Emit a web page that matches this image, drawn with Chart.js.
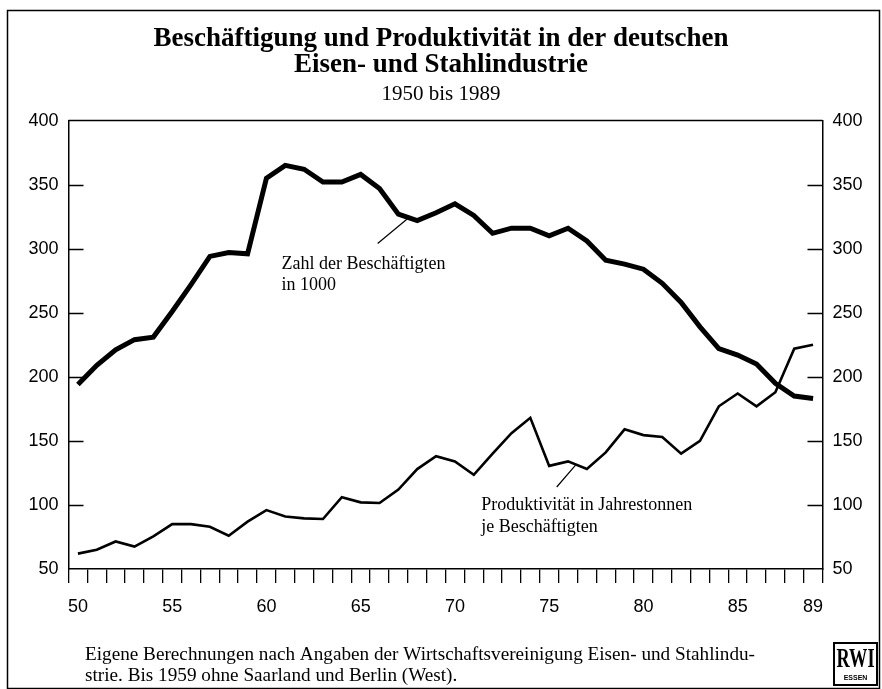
<!DOCTYPE html>
<html><head><meta charset="utf-8">
<script src="https://cdn.jsdelivr.net/npm/chart.js@4.4.0/dist/chart.umd.min.js"></script>
<style>html,body{margin:0;padding:0;background:#fff;}#wrap{width:882px;height:689px;}</style>
</head><body><div id="wrap"><canvas id="c" width="882" height="689"></canvas></div>
<script>
const years = [1950,1951,1952,1953,1954,1955,1956,1957,1958,1959,1960,1961,1962,1963,1964,1965,1966,1967,1968,1969,1970,1971,1972,1973,1974,1975,1976,1977,1978,1979,1980,1981,1982,1983,1984,1985,1986,1987,1988,1989];
const employment = [194,209,221,229,231,251,272,294,297,296,355,365,362,352,352,358,347,327,322,328,335,326,312,316,316,310,316,306,291,288,284,273,258,239,222,217,210,195,185,183];
const productivity = [62,65,71.5,67.5,75.5,85,85,83,76,87,96,91,89.5,89,106,102,101.5,112,128,138,134,123.5,140,156,168,130.5,134,128,141,159,154.5,153,140,150,177,187,177,188,222,225];
const labeledYears = [1950,1955,1960,1965,1970,1975,1980,1985,1989];
const yMin = 50, yMax = 400, yStep = 50;
const titleLines = ['Beschäftigung und Produktivität in der deutschen','Eisen- und Stahlindustrie'];
const subtitleText = '1950 bis 1989';
const employmentLabel = ['Zahl der Beschäftigten','in 1000'];
const productivityLabel = ['Produktivität in Jahrestonnen','je Beschäftigten'];
const footnote = ['Eigene Berechnungen nach Angaben der Wirtschaftsvereinigung Eisen- und Stahlindu-','strie. Bis 1959 ohne Saarland und Berlin (West).'];

const SERIF = "'Liberation Serif', 'Times New Roman', serif";
const SANS = "'Liberation Sans', Arial, sans-serif";

const decor = {
  id: 'decor',
  beforeDraw(chart) {
    const c = chart.ctx;
    c.save();
    c.fillStyle = '#fff';
    c.fillRect(0, 0, chart.width, chart.height);
    c.restore();
  },
  afterDraw(chart) {
    const c = chart.ctx;
    const a = chart.chartArea;
    const xs = chart.scales.x, ys = chart.scales.y;
    c.save();
    c.strokeStyle = '#000';
    c.fillStyle = '#000';
    // outer frame
    c.lineWidth = 1.5;
    c.strokeRect(7.5, 10.5, 872, 678);
    // top border of plot
    c.beginPath();
    c.moveTo(a.left, a.top); c.lineTo(a.right, a.top);
    c.stroke();
    // inward y ticks
    c.lineWidth = 1.3;
    for (let v = yMin + yStep; v < yMax; v += yStep) {
      const py = Math.round(ys.getPixelForValue(v)) + 0.5;
      c.beginPath();
      c.moveTo(a.left, py); c.lineTo(a.left + 15, py);
      c.moveTo(a.right - 15, py); c.lineTo(a.right, py);
      c.stroke();
    }
    // annotation leader lines (anchored in data coordinates)
    c.lineWidth = 1.2;
    c.beginPath();
    c.moveTo(xs.getPixelForValue(15.9), ys.getPixelForValue(304));
    c.lineTo(xs.getPixelForValue(17.45), ys.getPixelForValue(323));
    c.moveTo(xs.getPixelForValue(25.4), ys.getPixelForValue(114));
    c.lineTo(xs.getPixelForValue(26.4), ys.getPixelForValue(131));
    c.stroke();
    // annotation texts
    c.font = '18px ' + SERIF;
    c.textBaseline = 'middle';
    c.textAlign = 'left';
    let ex = xs.getPixelForValue(10.8), ey = ys.getPixelForValue(288);
    c.fillText(employmentLabel[0], ex, ey);
    c.fillText(employmentLabel[1], ex, ey + 21);
    let px = xs.getPixelForValue(21.4), py = ys.getPixelForValue(99.4);
    c.fillText(productivityLabel[0], px, py);
    c.fillText(productivityLabel[1], px, py + 22);
    // footnote (condensed)
    c.font = '18px ' + SERIF;
    const w0 = c.measureText(footnote[0]).width;
    const sx = 670 / w0;
    c.save();
    c.translate(85, 0);
    c.scale(sx, 1.05);
    c.fillText(footnote[0], 0, 655 / 1.05);
    c.fillText(footnote[1], 0, 676 / 1.05);
    c.restore();
    // RWI logo
    c.lineWidth = 2;
    c.strokeRect(834, 643, 43, 42);
    c.save();
    c.font = 'bold 26px ' + SERIF;
    c.textAlign = 'center';
    const rw = c.measureText('RWI').width;
    c.translate(855.5, 660);
    c.scale(38 / rw, 1.05);
    c.fillText('RWI', 0, 0);
    c.restore();
    c.font = 'bold 7px ' + SANS;
    c.textAlign = 'center';
    c.fillText('ESSEN', 855.5, 678);
    c.restore();
  }
};

const tickFont = { family: SANS, size: 18 };

new Chart(document.getElementById('c'), {
  type: 'line',
  data: {
    labels: years.map(String),
    datasets: [
      { label: employmentLabel.join(' '), data: employment, borderColor: '#000', borderWidth: 5, pointRadius: 0, tension: 0, borderJoinStyle: 'miter', yAxisID: 'y' },
      { label: productivityLabel.join(' '), data: productivity, borderColor: '#000', borderWidth: 2.6, pointRadius: 0, tension: 0, borderJoinStyle: 'miter', yAxisID: 'y' }
    ]
  },
  options: {
    responsive: false,
    animation: false,
    events: [],
    layout: { padding: 0 },
    plugins: {
      legend: { display: false },
      tooltip: { enabled: false },
      title: { display: true, text: titleLines, color: '#000', font: { family: SERIF, size: 27, weight: 'bold', lineHeight: 0.97 }, padding: { top: 26, bottom: 2 } },
      subtitle: { display: true, text: subtitleText, color: '#000', font: { family: SERIF, size: 21, lineHeight: 1.2 }, padding: { top: 2, bottom: 13 } }
    },
    scales: {
      x: {
        type: 'category',
        offset: true,
        grid: { offset: true, drawOnChartArea: false, drawTicks: true, tickLength: 14, color: '#000', lineWidth: 1.3 },
        border: { display: true, color: '#000', width: 1.5 },
        ticks: {
          autoSkip: false, maxRotation: 0, padding: 13, color: '#000', font: tickFont,
          callback: (v, i) => labeledYears.includes(years[i]) ? String(years[i]).slice(2) : ''
        },
        afterFit: (s) => { s.height = 120; }
      },
      y: {
        position: 'left', min: yMin, max: yMax,
        ticks: { stepSize: yStep, padding: 10, color: '#000', font: tickFont },
        grid: { drawOnChartArea: false, drawTicks: false },
        border: { display: true, color: '#000', width: 1.5 },
        afterFit: (s) => { s.width = 68.5; }
      },
      y2: {
        position: 'right', min: yMin, max: yMax,
        ticks: { stepSize: yStep, padding: 10, color: '#000', font: tickFont },
        grid: { drawOnChartArea: false, drawTicks: false },
        border: { display: true, color: '#000', width: 1.5 },
        afterFit: (s) => { s.width = 59.5; }
      }
    }
  },
  plugins: [decor]
});
</script></body></html>
